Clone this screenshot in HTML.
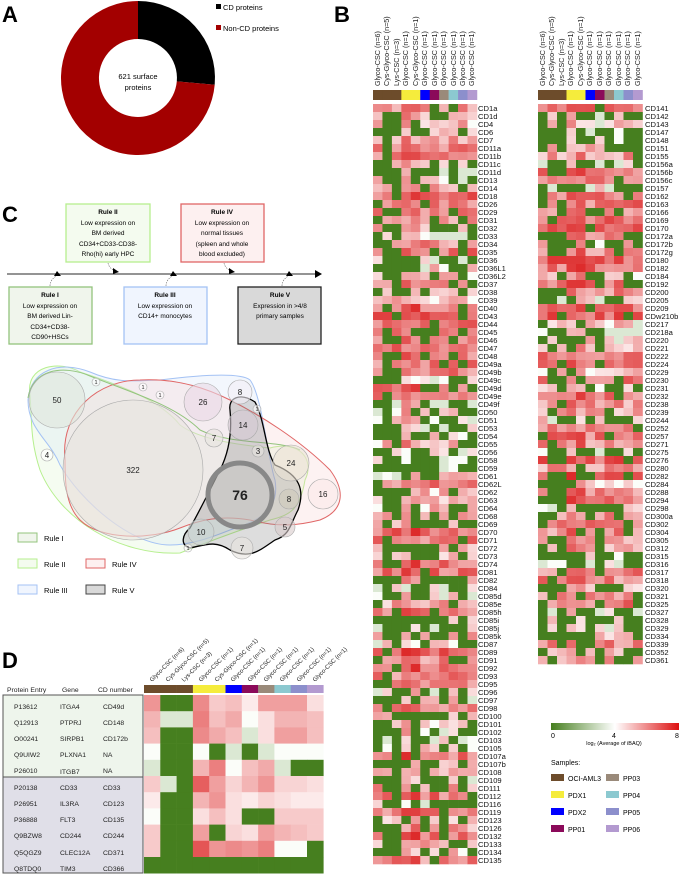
<!DOCTYPE html>
<html><head><meta charset="utf-8"><style>
html,body{margin:0;padding:0;background:#fff;}
svg{display:block;font-family:"Liberation Sans",Arial,sans-serif;}
</style></head><body>
<svg id="s" width="685" height="876" viewBox="0 0 685 876" xmlns="http://www.w3.org/2000/svg">
<text x="2" y="22" font-size="22" font-weight="bold">A</text>
<text x="334" y="22" font-size="22" font-weight="bold">B</text>
<text x="2" y="222" font-size="22" font-weight="bold">C</text>
<text x="2" y="668" font-size="22" font-weight="bold">D</text>

<path d="M138,1 A77,77 0 0 1 214.7,84.7 L176.8,81.4 A39,39 0 0 0 138,39 Z" fill="#000"/>
<path d="M214.7,84.7 A77,77 0 1 1 138,1 L138,39 A39,39 0 1 0 176.8,81.4 Z" fill="#a30000"/>
<text x="138" y="79" font-size="7.5" text-anchor="middle">621 surface</text>
<text x="138" y="90" font-size="7.5" text-anchor="middle">proteins</text>
<rect x="216" y="4" width="5" height="5" fill="#000"/>
<text x="223" y="10" font-size="7.5">CD proteins</text>
<rect x="216" y="25" width="5" height="5" fill="#a30000"/>
<text x="223" y="31" font-size="7.5">Non-CD proteins</text>

<g font-size="6.5" text-anchor="middle">
<rect x="66" y="204" width="84" height="58" fill="#f4fbef" stroke="#b6ef8e" stroke-width="1.3"/>
<text x="108" y="214" font-weight="bold">Rule II</text>
<text x="108" y="225">Low expression on</text><text x="108" y="235">BM derived</text><text x="108" y="246">CD34+CD33-CD38-</text><text x="108" y="256">Rho(hi) early HPC</text>
<rect x="181" y="204" width="83" height="58" fill="#fdf0f0" stroke="#e06666" stroke-width="1.3"/>
<text x="222" y="214" font-weight="bold">Rule IV</text>
<text x="222" y="225">Low expression on</text><text x="222" y="235">normal tissues</text><text x="222" y="246">(spleen and whole</text><text x="222" y="256">blood excluded)</text>
<line x1="7" y1="274" x2="316" y2="274" stroke="#555" stroke-width="1.3"/>
<path d="M315,270 L322,274 L315,278 Z" fill="#000"/>
<g fill="none" stroke="#666" stroke-width="0.6" stroke-dasharray="1.5,1">
<path d="M50,286 C50,280 54,278 56,276"/><path d="M166,286 C166,280 170,278 172,276"/><path d="M282,286 C282,280 286,278 288,276"/>
<path d="M108,263 C109,268 113,270 115,271"/><path d="M224,263 C225,268 229,270 231,271"/>
</g>
<g fill="#000">
<path d="M54,276 L61,276 L57,271 Z"/><path d="M170,276 L177,276 L173,271 Z"/><path d="M286,276 L293,276 L289,271 Z"/>
<path d="M113,268 L119,272 L113,274 Z"/><path d="M229,268 L235,272 L229,274 Z"/>
</g>
<rect x="9" y="287" width="83" height="57" fill="#f0f5ec" stroke="#93c47d" stroke-width="1.3"/>
<text x="50" y="297" font-weight="bold">Rule I</text>
<text x="50" y="308">Low expression on</text><text x="50" y="318">BM derived Lin-</text><text x="50" y="329">CD34+CD38-</text><text x="50" y="339">CD90+HSCs</text>
<rect x="124" y="287" width="83" height="57" fill="#f0f5fe" stroke="#a4c2f4" stroke-width="1.3"/>
<text x="165" y="297" font-weight="bold">Rule III</text>
<text x="165" y="308">Low expression on</text><text x="165" y="318">CD14+ monocytes</text>
<rect x="238" y="287" width="83" height="57" fill="#d9d9d9" stroke="#222" stroke-width="1.3"/>
<text x="280" y="297" font-weight="bold">Rule V</text>
<text x="280" y="308">Expression in &gt;4/8</text><text x="280" y="318">primary samples</text>
</g>

<g fill-opacity="0.25">
<path d="M30,395 C25,365 60,360 80,372 C120,385 160,400 180,425 C200,440 240,445 270,448 C300,440 315,460 305,480 C300,510 290,515 270,520 C240,530 200,545 180,553 C120,556 60,520 40,470 C30,440 32,420 30,395 Z" fill="#d9f2c8" stroke="#b6ef8e" stroke-width="1"/>
<path d="M28,400 C30,370 60,360 90,372 C120,385 140,380 160,380 C200,375 240,372 250,380 C262,395 268,460 275,480 C280,510 260,520 230,530 C210,538 190,545 170,545 C130,545 80,500 60,465 C50,440 28,430 28,400 Z" fill="#cfdff8" stroke="#a4c2f4" stroke-width="1"/>
<path d="M65,460 C60,410 100,380 140,380 C180,378 210,390 230,400 C260,415 300,440 330,470 C345,490 345,510 320,520 C300,525 280,528 250,520 C220,515 200,520 180,528 C150,540 100,540 80,520 C65,505 65,480 65,460 Z" fill="#f6cccc" stroke="#e06666" stroke-width="1"/>
<path d="M28,398 C32,370 62,364 90,376 C130,392 175,405 200,430 C230,445 280,440 300,450" fill="none" stroke="#93c47d" stroke-width="1" stroke-opacity="1"/>
<path d="M230,410 C228,398 240,392 255,402 C265,420 265,450 275,465 C300,475 305,490 298,510 C290,525 290,535 275,540 C260,550 250,560 230,550 C215,540 205,545 190,548 C180,545 182,535 190,528 C200,510 210,490 220,470 C230,450 232,430 230,410 Z" fill="#777" stroke="#000" stroke-width="1.3" stroke-opacity="1"/>
</g>
<g fill="#e8e4e0" fill-opacity="0.6" stroke="#aaa" stroke-width="0.6" font-size="8" text-anchor="middle">
<circle cx="57" cy="400" r="28" fill="#dfe6dc"/>
<circle cx="133" cy="470" r="70"/>
<circle cx="203" cy="402" r="19" fill="#ead9e6"/>
<circle cx="240" cy="392" r="12" fill="#f3eef6"/>
<circle cx="243" cy="425" r="15" fill="#d6c9d3"/>
<circle cx="214" cy="438" r="9"/>
<circle cx="258" cy="451" r="6"/>
<circle cx="291" cy="463" r="18" fill="#ebe3d5"/>
<circle cx="323" cy="494" r="15" fill="#fbe9e9"/>
<circle cx="289" cy="499" r="10" fill="#cfcabb"/>
<circle cx="285" cy="527" r="10" fill="#d9cccc"/>
<circle cx="201" cy="532" r="13" fill="#ccd6d4"/>
<circle cx="242" cy="548" r="11"/>
<circle cx="47" cy="455" r="6" fill="#fff"/>
<circle cx="96" cy="382" r="4" fill="#fff"/><circle cx="143" cy="387" r="4" fill="#fff"/><circle cx="160" cy="395" r="4" fill="#fff"/><circle cx="257" cy="409" r="4" fill="#fff"/><circle cx="188" cy="548" r="4" fill="#fff"/>
<circle cx="240" cy="495" r="32" fill="#c8c6c3" stroke="#888" stroke-width="5"/>
</g>
<g font-size="8" text-anchor="middle" fill="#222">
<text x="57" y="403">50</text><text x="133" y="473">322</text><text x="203" y="405">26</text><text x="240" y="395">8</text>
<text x="243" y="428">14</text><text x="214" y="441">7</text><text x="258" y="454">3</text><text x="291" y="466">24</text>
<text x="323" y="497">16</text><text x="289" y="502">8</text><text x="285" y="530">5</text><text x="201" y="535">10</text>
<text x="242" y="551">7</text><text x="47" y="458">4</text>
<g font-size="5.5"><text x="96" y="384">1</text><text x="143" y="389">1</text><text x="160" y="397">1</text><text x="257" y="411">1</text><text x="188" y="550">1</text></g>
<text x="240" y="500" font-size="14" font-weight="bold">76</text>
</g>
<g font-size="7.5">
<rect x="18" y="533" width="19" height="9" fill="#f0f5ec" stroke="#93c47d"/><text x="44" y="541">Rule I</text>
<rect x="18" y="559" width="19" height="9" fill="#f4fbef" stroke="#b6ef8e"/><text x="44" y="567">Rule II</text>
<rect x="86" y="559" width="19" height="9" fill="#fdf0f0" stroke="#e06666"/><text x="112" y="567">Rule IV</text>
<rect x="18" y="585" width="19" height="9" fill="#f0f5fe" stroke="#a4c2f4"/><text x="44" y="593">Rule III</text>
<rect x="86" y="585" width="19" height="9" fill="#d9d9d9" stroke="#444"/><text x="112" y="593">Rule V</text>
</g>

<g font-size="6" fill="#222">
<text transform="translate(152,682) rotate(-45)">Glyco-CSC (n=6)</text>
<text transform="translate(168,682) rotate(-45)">Cys-Glyco-CSC (n=5)</text>
<text transform="translate(184,682) rotate(-45)">Lys-CSC (n=3)</text>
<text transform="translate(201,682) rotate(-45)">Glyco-CSC (n=1)</text>
<text transform="translate(217,682) rotate(-45)">Cys-Glyco-CSC (n=1)</text>
<text transform="translate(233,682) rotate(-45)">Glyco-CSC (n=1)</text>
<text transform="translate(250,682) rotate(-45)">Glyco-CSC (n=1)</text>
<text transform="translate(266,682) rotate(-45)">Glyco-CSC (n=1)</text>
<text transform="translate(282,682) rotate(-45)">Glyco-CSC (n=1)</text>
<text transform="translate(299,682) rotate(-45)">Glyco-CSC (n=1)</text>
<text transform="translate(315,682) rotate(-45)">Glyco-CSC (n=1)</text>
</g>
<g id="dbar"></g>
<rect x="3" y="695" width="140" height="82" fill="#eef5ec"/>
<rect x="3" y="777" width="140" height="96" fill="#e0dfe8"/>
<rect x="3" y="695" width="140" height="178" fill="none" stroke="#555" stroke-width="1"/>
<line x1="3" y1="777" x2="143" y2="777" stroke="#555" stroke-width="1"/>
<g font-size="6.8" fill="#222">
<text x="7" y="692">Protein Entry</text><text x="62" y="692">Gene</text><text x="98" y="692">CD number</text>
<text x="14" y="709">P13612</text><text x="60" y="709">ITGA4</text><text x="103" y="709">CD49d</text>
<text x="14" y="725">Q12913</text><text x="60" y="725">PTPRJ</text><text x="103" y="725">CD148</text>
<text x="14" y="741">O00241</text><text x="60" y="741">SIRPB1</text><text x="103" y="741">CD172b</text>
<text x="14" y="757">Q9UIW2</text><text x="60" y="757">PLXNA1</text><text x="103" y="757">NA</text>
<text x="14" y="773">P26010</text><text x="60" y="774">ITGB7</text><text x="103" y="773">NA</text>
<text x="14" y="790">P20138</text><text x="60" y="790">CD33</text><text x="103" y="790">CD33</text>
<text x="14" y="806">P26951</text><text x="60" y="806">IL3RA</text><text x="103" y="806">CD123</text>
<text x="14" y="822">P36888</text><text x="60" y="822">FLT3</text><text x="103" y="822">CD135</text>
<text x="14" y="838">Q9BZW8</text><text x="60" y="838">CD244</text><text x="103" y="838">CD244</text>
<text x="14" y="855">Q5QGZ9</text><text x="60" y="855">CLEC12A</text><text x="103" y="855">CD371</text>
<text x="14" y="871">Q8TDQ0</text><text x="60" y="871">TIM3</text><text x="103" y="871">CD366</text>
</g>
<g id="dcells"></g>

<g font-size="7.2" fill="#222">
<text transform="translate(380,86) rotate(-90)">Glyco-CSC (n=6)</text>
<text transform="translate(389,86) rotate(-90)">Cys-Glyco-CSC (n=5)</text>
<text transform="translate(399,86) rotate(-90)">Lys-CSC (n=3)</text>
<text transform="translate(408,86) rotate(-90)">Glyco-CSC (n=1)</text>
<text transform="translate(418,86) rotate(-90)">Cys-Glyco-CSC (n=1)</text>
<text transform="translate(427,86) rotate(-90)">Glyco-CSC (n=1)</text>
<text transform="translate(437,86) rotate(-90)">Glyco-CSC (n=1)</text>
<text transform="translate(446,86) rotate(-90)">Glyco-CSC (n=1)</text>
<text transform="translate(456,86) rotate(-90)">Glyco-CSC (n=1)</text>
<text transform="translate(465,86) rotate(-90)">Glyco-CSC (n=1)</text>
<text transform="translate(474,86) rotate(-90)">Glyco-CSC (n=1)</text>
<text transform="translate(545,86) rotate(-90)">Glyco-CSC (n=6)</text>
<text transform="translate(554,86) rotate(-90)">Cys-Glyco-CSC (n=5)</text>
<text transform="translate(564,86) rotate(-90)">Lys-CSC (n=3)</text>
<text transform="translate(573,86) rotate(-90)">Glyco-CSC (n=1)</text>
<text transform="translate(583,86) rotate(-90)">Cys-Glyco-CSC (n=1)</text>
<text transform="translate(592,86) rotate(-90)">Glyco-CSC (n=1)</text>
<text transform="translate(602,86) rotate(-90)">Glyco-CSC (n=1)</text>
<text transform="translate(611,86) rotate(-90)">Glyco-CSC (n=1)</text>
<text transform="translate(621,86) rotate(-90)">Glyco-CSC (n=1)</text>
<text transform="translate(630,86) rotate(-90)">Glyco-CSC (n=1)</text>
<text transform="translate(640,86) rotate(-90)">Glyco-CSC (n=1)</text>
</g>
<g id="bcells"></g>
<g id="lbl" font-size="7.6" fill="#111">
<text x="478" y="111">CD1a</text><text x="478" y="119">CD1d</text><text x="478" y="127">CD4</text><text x="478" y="135">CD6</text><text x="478" y="143">CD7</text><text x="478" y="151">CD11a</text><text x="478" y="159">CD11b</text><text x="478" y="167">CD11c</text><text x="478" y="175">CD11d</text><text x="478" y="183">CD13</text><text x="478" y="191">CD14</text><text x="478" y="199">CD18</text><text x="478" y="207">CD26</text><text x="478" y="215">CD29</text><text x="478" y="223">CD31</text><text x="478" y="231">CD32</text><text x="478" y="239">CD33</text><text x="478" y="247">CD34</text><text x="478" y="255">CD35</text><text x="478" y="263">CD36</text><text x="478" y="271">CD36L1</text><text x="478" y="279">CD36L2</text><text x="478" y="287">CD37</text><text x="478" y="295">CD38</text><text x="478" y="303">CD39</text><text x="478" y="311">CD40</text><text x="478" y="319">CD43</text><text x="478" y="327">CD44</text><text x="478" y="335">CD45</text><text x="478" y="343">CD46</text><text x="478" y="351">CD47</text><text x="478" y="359">CD48</text><text x="478" y="367">CD49a</text><text x="478" y="375">CD49b</text><text x="478" y="383">CD49c</text><text x="478" y="391">CD49d</text><text x="478" y="399">CD49e</text><text x="478" y="407">CD49f</text><text x="478" y="415">CD50</text><text x="478" y="423">CD51</text><text x="478" y="431">CD53</text><text x="478" y="439">CD54</text><text x="478" y="447">CD55</text><text x="478" y="455">CD56</text><text x="478" y="463">CD58</text><text x="478" y="471">CD59</text><text x="478" y="479">CD61</text><text x="478" y="487">CD62L</text><text x="478" y="495">CD62</text><text x="478" y="503">CD63</text><text x="478" y="511">CD64</text><text x="478" y="519">CD68</text><text x="478" y="527">CD69</text><text x="478" y="535">CD70</text><text x="478" y="543">CD71</text><text x="478" y="551">CD72</text><text x="478" y="559">CD73</text><text x="478" y="567">CD74</text><text x="478" y="575">CD81</text><text x="478" y="583">CD82</text><text x="478" y="591">CD84</text><text x="478" y="599">CD85d</text><text x="478" y="607">CD85e</text><text x="478" y="615">CD85h</text><text x="478" y="623">CD85i</text><text x="478" y="631">CD85j</text><text x="478" y="639">CD85k</text><text x="478" y="647">CD87</text><text x="478" y="655">CD89</text><text x="478" y="663">CD91</text><text x="478" y="671">CD92</text><text x="478" y="679">CD93</text><text x="478" y="687">CD95</text><text x="478" y="695">CD96</text><text x="478" y="703">CD97</text><text x="478" y="711">CD98</text><text x="478" y="719">CD100</text><text x="478" y="727">CD101</text><text x="478" y="735">CD102</text><text x="478" y="743">CD103</text><text x="478" y="751">CD105</text><text x="478" y="759">CD107a</text><text x="478" y="767">CD107b</text><text x="478" y="775">CD108</text><text x="478" y="783">CD109</text><text x="478" y="791">CD111</text><text x="478" y="799">CD112</text><text x="478" y="807">CD116</text><text x="478" y="815">CD119</text><text x="478" y="823">CD123</text><text x="478" y="831">CD126</text><text x="478" y="839">CD132</text><text x="478" y="847">CD133</text><text x="478" y="855">CD134</text><text x="478" y="863">CD135</text>
<text x="645" y="111">CD141</text><text x="645" y="119">CD142</text><text x="645" y="127">CD143</text><text x="645" y="135">CD147</text><text x="645" y="143">CD148</text><text x="645" y="151">CD151</text><text x="645" y="159">CD155</text><text x="645" y="167">CD156a</text><text x="645" y="175">CD156b</text><text x="645" y="183">CD156c</text><text x="645" y="191">CD157</text><text x="645" y="199">CD162</text><text x="645" y="207">CD163</text><text x="645" y="215">CD166</text><text x="645" y="223">CD169</text><text x="645" y="231">CD170</text><text x="645" y="239">CD172a</text><text x="645" y="247">CD172b</text><text x="645" y="255">CD172g</text><text x="645" y="263">CD180</text><text x="645" y="271">CD182</text><text x="645" y="279">CD184</text><text x="645" y="287">CD192</text><text x="645" y="295">CD200</text><text x="645" y="303">CD205</text><text x="645" y="311">CD209</text><text x="645" y="319">CDw210b</text><text x="645" y="327">CD217</text><text x="645" y="335">CD218a</text><text x="645" y="343">CD220</text><text x="645" y="351">CD221</text><text x="645" y="359">CD222</text><text x="645" y="367">CD224</text><text x="645" y="375">CD229</text><text x="645" y="383">CD230</text><text x="645" y="391">CD231</text><text x="645" y="399">CD232</text><text x="645" y="407">CD238</text><text x="645" y="415">CD239</text><text x="645" y="423">CD244</text><text x="645" y="431">CD252</text><text x="645" y="439">CD257</text><text x="645" y="447">CD271</text><text x="645" y="455">CD275</text><text x="645" y="463">CD276</text><text x="645" y="471">CD280</text><text x="645" y="479">CD282</text><text x="645" y="487">CD284</text><text x="645" y="495">CD288</text><text x="645" y="503">CD294</text><text x="645" y="511">CD298</text><text x="645" y="519">CD300a</text><text x="645" y="527">CD302</text><text x="645" y="535">CD304</text><text x="645" y="543">CD305</text><text x="645" y="551">CD312</text><text x="645" y="559">CD315</text><text x="645" y="567">CD316</text><text x="645" y="575">CD317</text><text x="645" y="583">CD318</text><text x="645" y="591">CD320</text><text x="645" y="599">CD321</text><text x="645" y="607">CD325</text><text x="645" y="615">CD327</text><text x="645" y="623">CD328</text><text x="645" y="631">CD329</text><text x="645" y="639">CD334</text><text x="645" y="647">CD339</text><text x="645" y="655">CD352</text><text x="645" y="663">CD361</text>
</g>

<defs><linearGradient id="gr" x1="0" x2="1"><stop offset="0" stop-color="#467f1f"/><stop offset="0.5" stop-color="#ffffff"/><stop offset="1" stop-color="#dd1111"/></linearGradient></defs>
<rect x="551" y="723" width="128" height="7" fill="url(#gr)"/>
<g font-size="7" text-anchor="middle"><text x="553" y="738">0</text><text x="614" y="738">4</text><text x="677" y="738">8</text>
<text x="614" y="745" font-size="5.5">log₂ (Average of iBAQ)</text></g>
<g font-size="7">
<text x="551" y="765">Samples:</text>
<rect x="551" y="774" width="13" height="7" fill="#6d4c2b"/><text x="568" y="781">OCI-AML3</text>
<rect x="551" y="791" width="13" height="7" fill="#f5ec3c"/><text x="568" y="798">PDX1</text>
<rect x="551" y="808" width="13" height="7" fill="#0000ff"/><text x="568" y="815">PDX2</text>
<rect x="551" y="825" width="13" height="7" fill="#8b0a5a"/><text x="568" y="832">PP01</text>
<rect x="606" y="774" width="13" height="7" fill="#9a8a7a"/><text x="623" y="781">PP03</text>
<rect x="606" y="791" width="13" height="7" fill="#8cc9d0"/><text x="623" y="798">PP04</text>
<rect x="606" y="808" width="13" height="7" fill="#8c8fcc"/><text x="623" y="815">PP05</text>
<rect x="606" y="825" width="13" height="7" fill="#b39ad0"/><text x="623" y="832">PP06</text>
</g>
</svg>
<script>
(function(){
var NS="http://www.w3.org/2000/svg";
function R(g,x,y,w,h,c){var r=document.createElementNS(NS,"rect");r.setAttribute("x",x);r.setAttribute("y",y);r.setAttribute("width",w);r.setAttribute("height",h);r.setAttribute("fill",c);g.appendChild(r);}
function pink(t){var r=Math.round(255-34*t),g=Math.round(255-213*t);return "rgb("+r+","+g+","+g+")";}
var G="#467f1f",LG="#dbe8d3",W="#fbfdf9";
var bar=["#6d4c2b","#6d4c2b","#6d4c2b","#f5ec3c","#f5ec3c","#0000ff","#8b0a5a","#9a8a7a","#8cc9d0","#8c8fcc","#b39ad0"];
var s=12345;function rnd(){s=(s*1103515245+12345)&0x7fffffff;return s/0x7fffffff;}
var bc=document.getElementById("bcells");
function heat(x0,cw,rows){
 for(var j=0;j<11;j++)R(bc,x0+j*cw,90,cw+0.3,10,bar[j]);
 for(var i=0;i<rows;i++){var lvl=rnd();
  for(var j=0;j<11;j++){var y=104+i*8,c;
   var pg=0.6-lvl*0.55+((j==1||j==2)?0.3:0)-((j==3)?0.2:0);
   if(rnd()<pg)c=G;else{var t=lvl*0.7+(rnd()-0.45)*0.5+(j==3||j==4?0.15:0);
    if(t<0.05)c=LG;else if(t<0.12)c=W;else c=pink(Math.min(1,t));}
   R(bc,x0+j*cw,y,cw+0.3,8.3,c);}}
}
heat(373,9.45,95);heat(538,9.5,70);
var dg=document.getElementById("dbar");for(var j=0;j<11;j++)R(dg,144+j*16.3,685,16.6,8,bar[j]);
var D=[[.5,0,0,.55,.25,.3,.1,.45,.45,.45,.15],[.35,-1,-1,.6,.3,.4,-2,.15,.35,.35,.3],[.3,0,0,.55,.4,.3,-1,.15,.45,.45,.3],[-2,0,0,-2,0,-1,0,-1,-2,-2,-2],[-1,0,0,.35,.6,-2,.3,.4,-1,0,0],[.25,-1,0,.75,.45,.2,.35,.5,.2,.2,.15],[.1,0,0,.35,.5,.15,.1,.2,.15,.1,.1],[-2,0,0,.15,.3,.15,0,0,.25,.25,.25],[.25,0,0,.45,0,.2,.15,.45,.35,.3,.25],[.25,0,0,.8,.5,.55,.5,.6,-2,-2,0],[0,0,0,0,0,0,0,0,0,0,0]];
var dc=document.getElementById("dcells");
for(var i=0;i<11;i++)for(var j=0;j<11;j++){var v=D[i][j],c=v==0?G:v==-1?LG:v==-2?W:pink(v);R(dc,144+j*16.3,695+i*16.2,16.6,16.5,c);}
})();
</script>
</body></html>
